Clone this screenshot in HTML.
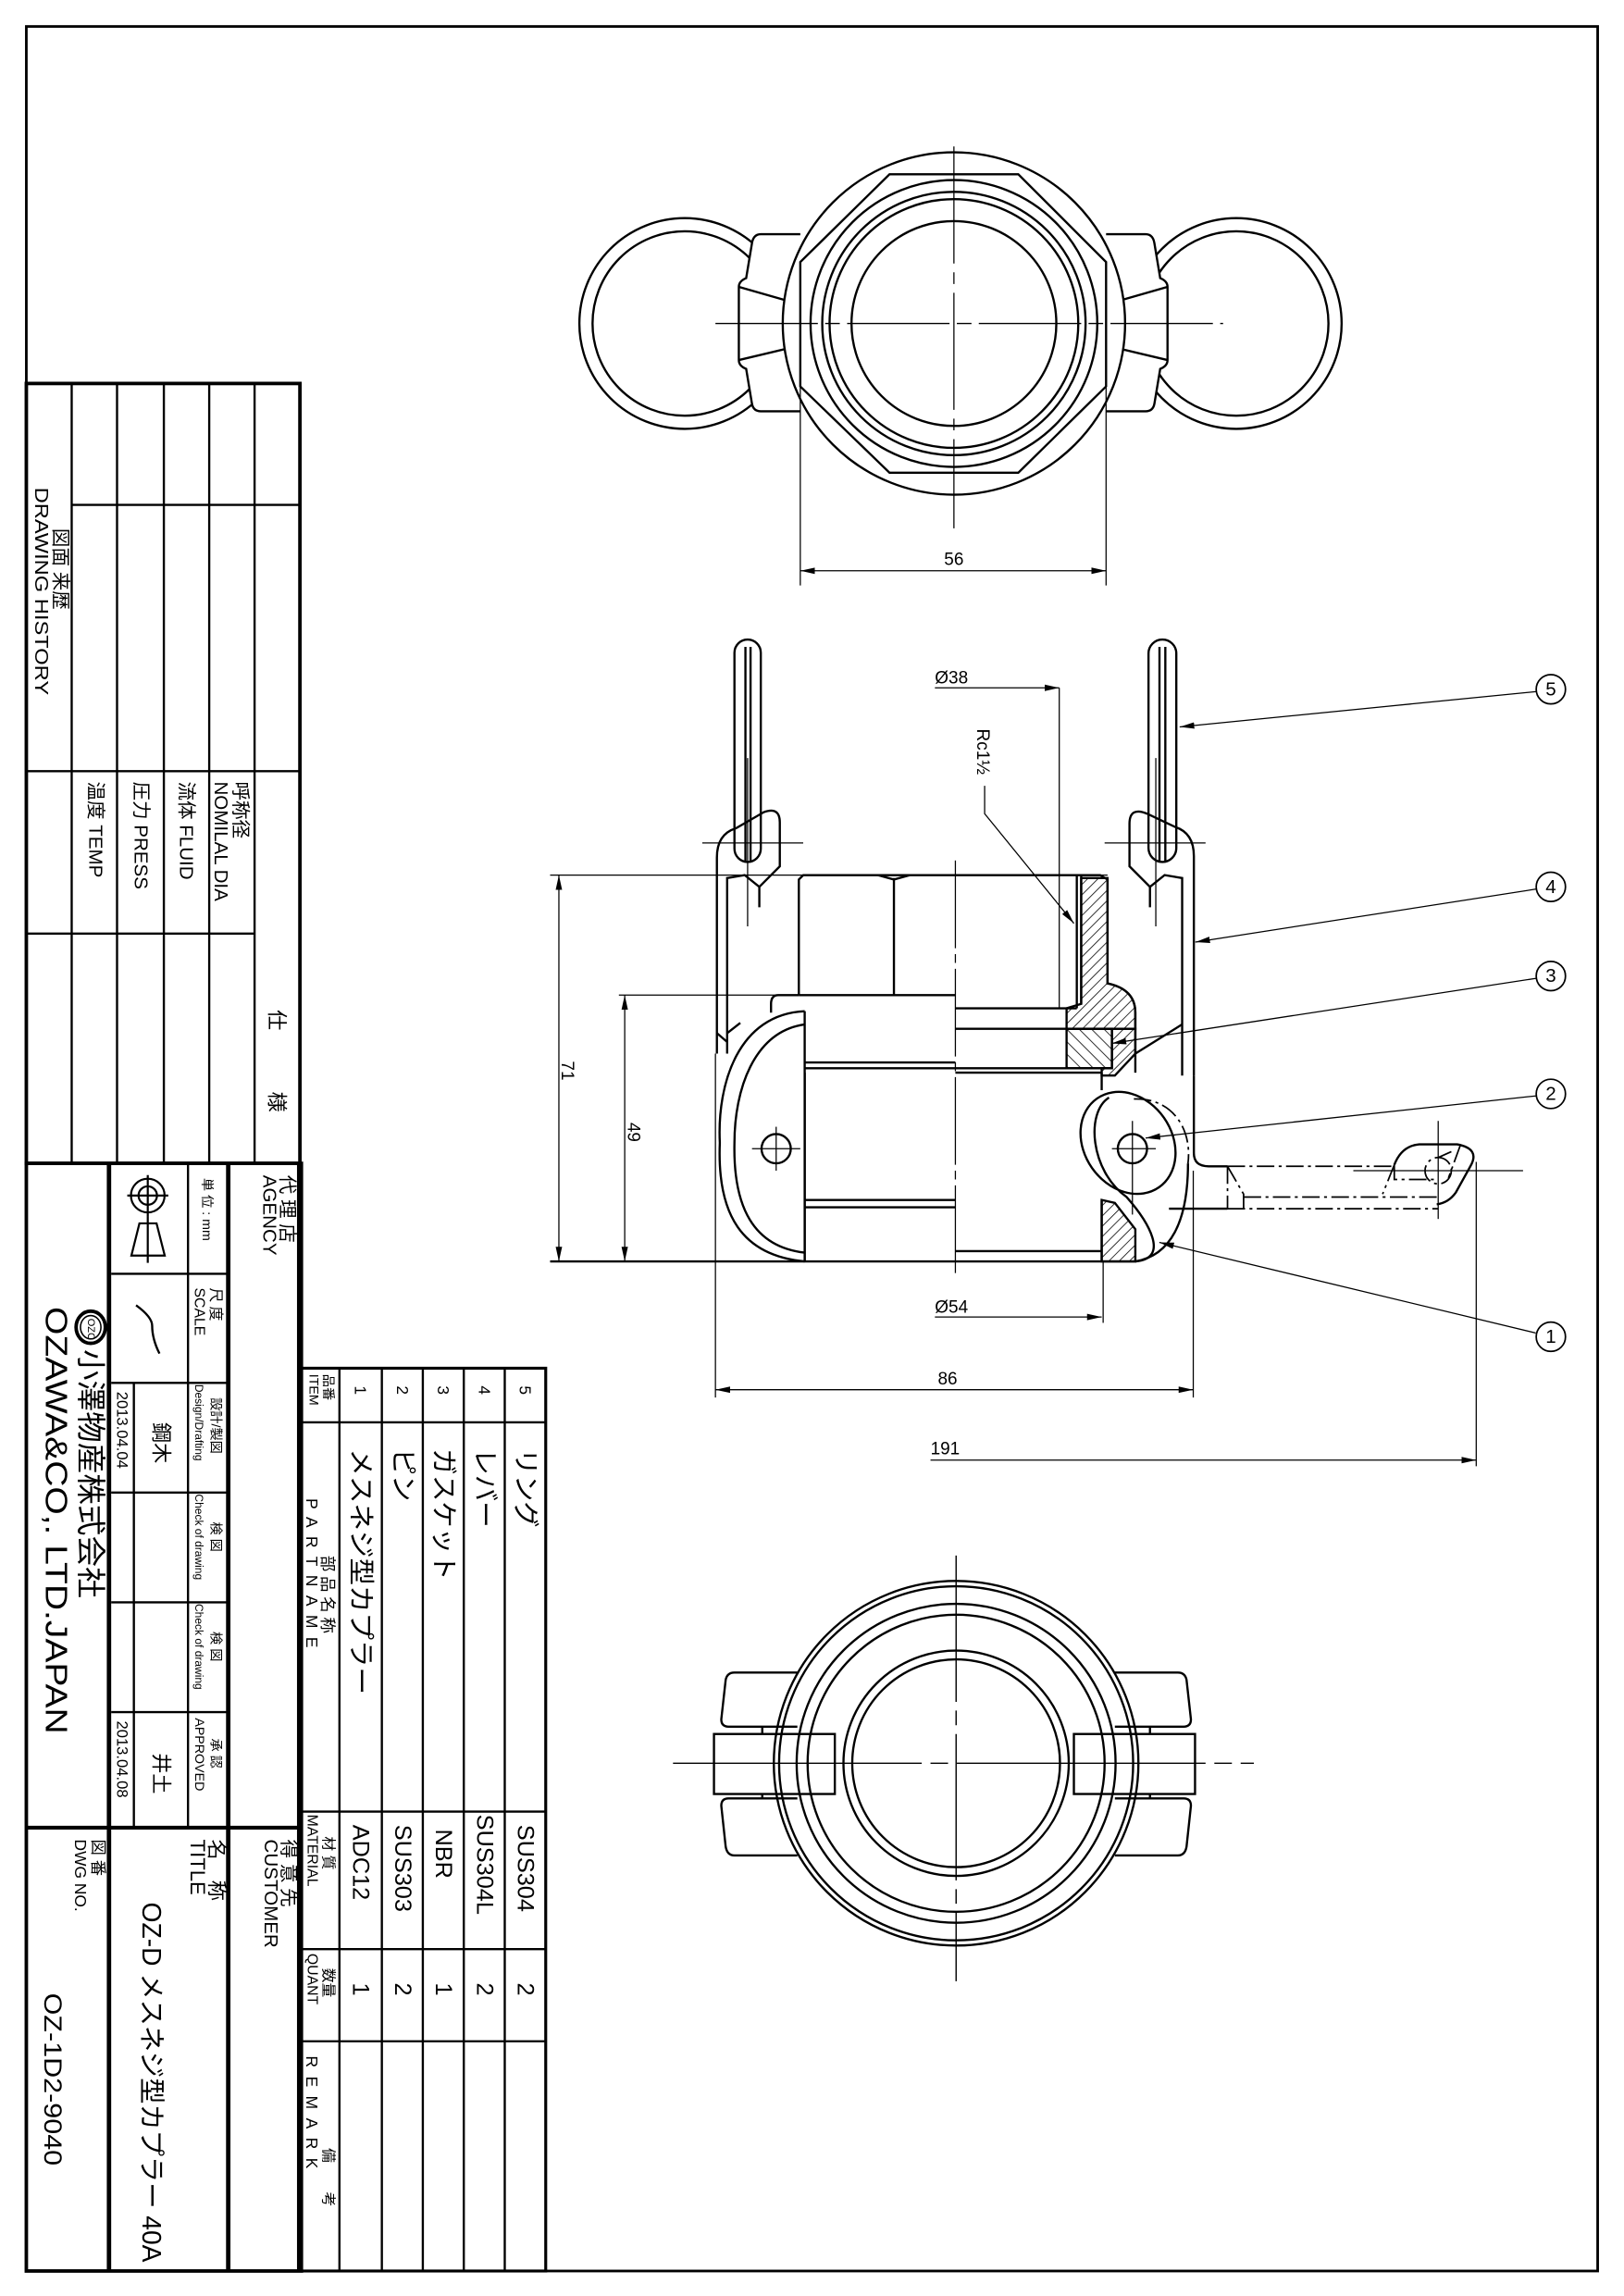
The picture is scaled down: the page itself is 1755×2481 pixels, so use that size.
<!DOCTYPE html>
<html><head><meta charset="utf-8"><style>
html,body{margin:0;padding:0;background:#fff}
svg{display:block}
text{font-family:"Liberation Sans","Noto Sans CJK JP",sans-serif;fill:#000}
</style></head><body>
<svg width="1755" height="2481" viewBox="0 0 1110 1569" xmlns="http://www.w3.org/2000/svg">
<defs>
<pattern id="h1" width="5" height="5" patternUnits="userSpaceOnUse" patternTransform="rotate(45)"><line x1="0" y1="0" x2="0" y2="5" stroke="#000" stroke-width="1"/></pattern>
<pattern id="h2" width="6" height="6" patternUnits="userSpaceOnUse" patternTransform="rotate(-45)"><line x1="0" y1="0" x2="0" y2="6" stroke="#000" stroke-width="1"/></pattern>
<marker id="ar" markerWidth="10" markerHeight="6" refX="10" refY="3" orient="auto" markerUnits="userSpaceOnUse"><path d="M0,0.8 L10,3 L0,5.2 Z" fill="#000"/></marker>
<marker id="ar2" markerWidth="10" markerHeight="6" refX="0" refY="3" orient="auto" markerUnits="userSpaceOnUse"><path d="M10,0.8 L0,3 L10,5.2 Z" fill="#000"/></marker>
</defs>
<rect width="1110" height="1569" fill="#fff"/>
<rect x="18" y="18" width="1074" height="1534" fill="none" stroke="#000" stroke-width="1.8"/>

<g stroke="#000" fill="none">
<rect x="18" y="262" width="187" height="533" stroke-width="2.4"/>
<g stroke-width="1.5">
<line x1="49" y1="262" x2="49" y2="795"/><line x1="80" y1="262" x2="80" y2="795"/>
<line x1="112" y1="262" x2="112" y2="795"/><line x1="143" y1="262" x2="143" y2="795"/>
<line x1="174" y1="262" x2="174" y2="795"/>
<line x1="49" y1="345" x2="205" y2="345"/>
<line x1="18" y1="527" x2="205" y2="527"/>
<line x1="18" y1="638" x2="174" y2="638"/>
</g>
<rect x="18" y="795" width="188" height="757" stroke-width="2.4"/>
<line x1="74.5" y1="795" x2="74.5" y2="1552" stroke-width="3"/>
<line x1="156" y1="795" x2="156" y2="1552" stroke-width="3"/>
<line x1="204.5" y1="795" x2="204.5" y2="1552" stroke-width="3"/>
<line x1="18" y1="1249" x2="206" y2="1249" stroke-width="2.6"/>
<g stroke-width="1.5">
<line x1="128.5" y1="795" x2="128.5" y2="1249"/>
<line x1="91.5" y1="945" x2="91.5" y2="1249"/>
<line x1="76" y1="870.5" x2="156" y2="870.5"/><line x1="76" y1="945" x2="156" y2="945"/>
<line x1="76" y1="1020" x2="156" y2="1020"/><line x1="76" y1="1095" x2="156" y2="1095"/>
<line x1="76" y1="1170" x2="156" y2="1170"/>
</g>
<rect x="206" y="935" width="167" height="617" stroke-width="2"/>
<g stroke-width="1.5">
<line x1="232" y1="935" x2="232" y2="1552"/><line x1="261" y1="935" x2="261" y2="1552"/>
<line x1="289" y1="935" x2="289" y2="1552"/><line x1="317" y1="935" x2="317" y2="1552"/>
<line x1="345" y1="935" x2="345" y2="1552"/>
<line x1="206" y1="972" x2="373" y2="972"/><line x1="206" y1="1238" x2="373" y2="1238"/>
<line x1="206" y1="1332" x2="373" y2="1332"/><line x1="206" y1="1395" x2="373" y2="1395"/>
</g>
<g stroke-width="1.4">
<circle cx="101" cy="817" r="11.5"/><circle cx="101" cy="817" r="6.3"/>
<line x1="87" y1="817" x2="115" y2="817"/><line x1="101" y1="803" x2="101" y2="831"/>
<path d="M95.3,836 L107,836 L112.6,858 L89.8,858 Z"/>
<line x1="101" y1="831" x2="101" y2="863"/>
<path d="M93,892 Q104,900 104,906 Q104,915 109,925" stroke-width="1.5"/>
</g>
<ellipse cx="62" cy="907" rx="10" ry="11" stroke-width="2.4"/>
<ellipse cx="62" cy="907" rx="7" ry="8" stroke-width="1"/>
</g>

<g font-size="13" dominant-baseline="central">
<text transform="translate(189,690) rotate(90)" font-size="14">仕　　　様</text>
<text transform="translate(164,534) rotate(90)">呼称径</text>
<text transform="translate(151,534) rotate(90)">NOMILAL  DIA</text>
<text transform="translate(127,534) rotate(90)">流体  FLUID</text>
<text transform="translate(96,534) rotate(90)">圧力  PRESS</text>
<text transform="translate(65,534) rotate(90)">温度  TEMP</text>
<text transform="translate(41,361) rotate(90)">図面  来歴</text>
<text transform="translate(28,333) rotate(90)" textLength="142" lengthAdjust="spacingAndGlyphs">DRAWING HISTORY</text>

<text transform="translate(196,803) rotate(90)">代 理 店</text>
<text transform="translate(184,803) rotate(90)">AGENCY</text>
<text transform="translate(141,805) rotate(90)" font-size="9">単   位 : mm</text>
<text transform="translate(147,880) rotate(90)" font-size="10">尺   度</text>
<text transform="translate(136,880) rotate(90)" font-size="10">SCALE</text>
<text transform="translate(147,955) rotate(90)" font-size="9">設計/製図</text>
<text transform="translate(136,946) rotate(90)" font-size="7.6">Design/Drafting</text>
<text transform="translate(147,1040) rotate(90)" font-size="9">検   図</text>
<text transform="translate(136,1021) rotate(90)" font-size="7.6">Check of drawing</text>
<text transform="translate(147,1115) rotate(90)" font-size="9">検   図</text>
<text transform="translate(136,1096) rotate(90)" font-size="7.6">Check of drawing</text>
<text transform="translate(147,1188) rotate(90)" font-size="9">承   認</text>
<text transform="translate(136,1174) rotate(90)" font-size="9">APPROVED</text>
<text transform="translate(83.5,951) rotate(90)" font-size="10.5">2013.04.04</text>
<text transform="translate(110,972) rotate(90)" font-size="14">鋼木</text>
<text transform="translate(83.5,1176) rotate(90)" font-size="10.5">2013.04.08</text>
<text transform="translate(110,1198) rotate(90)" font-size="14">井土</text>
<text transform="translate(62,901) rotate(90)" font-size="7">OZC</text>
<text transform="translate(62,922) rotate(90)" font-size="20" textLength="170" lengthAdjust="spacingAndGlyphs">小澤物産株式会社</text>
<text transform="translate(38,893) rotate(90)" font-size="21" textLength="292" lengthAdjust="spacingAndGlyphs">OZAWA&amp;CO,. LTD.JAPAN</text>

<text transform="translate(197,1257) rotate(90)">得 意 先</text>
<text transform="translate(185,1257) rotate(90)">CUSTOMER</text>
<text transform="translate(148,1257) rotate(90)" font-size="14">名　称</text>
<text transform="translate(135,1257) rotate(90)" font-size="14">TITLE</text>
<text transform="translate(103,1300) rotate(90)" font-size="18" textLength="246" lengthAdjust="spacingAndGlyphs">OZ-D メスネジ型カプラー 40A</text>
<text transform="translate(67,1257) rotate(90)" font-size="11">図 番</text>
<text transform="translate(55,1257) rotate(90)" font-size="11">DWG NO.</text>
<text transform="translate(36,1362) rotate(90)" font-size="17" textLength="118" lengthAdjust="spacingAndGlyphs">OZ-1D2-9040</text>

<text transform="translate(224,939) rotate(90)" font-size="9">品番</text>
<text transform="translate(214,939) rotate(90)" font-size="9">ITEM</text>
<text transform="translate(224,1063) rotate(90)" font-size="11">部 品 名 称</text>
<text transform="translate(213,1024) rotate(90)" font-size="11" letter-spacing="6">PARTNAME</text>
<text transform="translate(224,1255) rotate(90)" font-size="10">材 質</text>
<text transform="translate(213,1240) rotate(90)" font-size="10">MATERIAL</text>
<text transform="translate(224,1345) rotate(90)" font-size="10">数量</text>
<text transform="translate(213,1335) rotate(90)" font-size="10">QUANT</text>
<text transform="translate(224,1468) rotate(90)" font-size="10">備　　考</text>
<text transform="translate(213,1405) rotate(90)" font-size="11" letter-spacing="6">REMARK</text>

<text transform="translate(246.5,947) rotate(90)" font-size="11">1</text>
<text transform="translate(275,947) rotate(90)" font-size="11">2</text>
<text transform="translate(303,947) rotate(90)" font-size="11">3</text>
<text transform="translate(331,947) rotate(90)" font-size="11">4</text>
<text transform="translate(359,947) rotate(90)" font-size="11">5</text>
<text transform="translate(246.5,990) rotate(90)" font-size="18" textLength="168" lengthAdjust="spacingAndGlyphs">メスネジ型カプラー</text>
<text transform="translate(275,990) rotate(90)" font-size="18">ピン</text>
<text transform="translate(303,990) rotate(90)" font-size="18">ガスケット</text>
<text transform="translate(331,990) rotate(90)" font-size="18">レバー</text>
<text transform="translate(359,990) rotate(90)" font-size="18">リング</text>
<text transform="translate(246.5,1247) rotate(90)" font-size="16">ADC12</text>
<text transform="translate(275,1247) rotate(90)" font-size="16">SUS303</text>
<text transform="translate(303,1250) rotate(90)" font-size="16">NBR</text>
<text transform="translate(331,1240) rotate(90)" font-size="16">SUS304L</text>
<text transform="translate(359,1247) rotate(90)" font-size="16">SUS304</text>
<text transform="translate(246.5,1355) rotate(90)" font-size="16">1</text>
<text transform="translate(275,1355) rotate(90)" font-size="16">2</text>
<text transform="translate(303,1355) rotate(90)" font-size="16">1</text>
<text transform="translate(331,1355) rotate(90)" font-size="16">2</text>
<text transform="translate(359,1355) rotate(90)" font-size="16">2</text>
</g>

<!-- TOP VIEW -->
<g stroke="#000" fill="none" stroke-width="1.5">
<circle cx="468" cy="221" r="72"/><circle cx="468" cy="221" r="63"/>
<circle cx="845" cy="221" r="72"/><circle cx="845" cy="221" r="63"/>
<path d="M547,160 L520,160 Q515,160 514,166 L510,190 Q505,192 505,196 L505,246 Q505,250 510,252 L514,276 Q515,281 520,281 L547,281" fill="#fff"/>
<path d="M505,196 L547,208 M505,246 L547,236"/>
<path d="M756,160 L783,160 Q788,160 789,166 L793,190 Q798,192 798,196 L798,246 Q798,250 793,252 L789,276 Q788,281 783,281 L756,281" fill="#fff"/>
<path d="M798,196 L756,208 M798,246 L756,236"/>
<circle cx="652" cy="221" r="117" fill="#fff"/>
<path d="M608,119 L696,119 L756,179 L756,264 L696,323 L608,323 L547,264 L547,179 Z"/>
<circle cx="652" cy="221" r="98"/><circle cx="652" cy="221" r="90"/>
<circle cx="652" cy="221" r="85"/><circle cx="652" cy="221" r="70"/>
</g>
<g stroke="#000" stroke-width="0.8" fill="none">
<line x1="489" y1="221" x2="836" y2="221" stroke-dasharray="70,5,10,5"/>
<line x1="652" y1="100" x2="652" y2="361" stroke-dasharray="80,6,8,6"/>
<line x1="547" y1="264" x2="547" y2="400"/><line x1="756" y1="264" x2="756" y2="400"/>
<line x1="547" y1="390" x2="756" y2="390" marker-start="url(#ar2)" marker-end="url(#ar)"/>
</g>
<text x="652" y="386" font-size="12" text-anchor="middle">56</text>

<!-- MIDDLE VIEW -->
<g stroke="#000" fill="none" stroke-width="1.5">
<rect x="502" y="437" width="18" height="152" rx="9"/>
<line x1="509.5" y1="442" x2="509.5" y2="589"/><line x1="513" y1="442" x2="513" y2="589"/>
<rect x="785" y="437" width="19" height="152" rx="9.5"/>
<line x1="792.5" y1="442" x2="792.5" y2="589"/><line x1="796.5" y1="442" x2="796.5" y2="589"/>
<path d="M490,720 L490,586 Q490,570 503,566 L522,555 Q533,551 533,562 L533,592 L519,606"/>
<path d="M497,720 L497,600 L509,598 L519,606 L519,620"/>
<path d="M490,706 L497,712 M497,706 L506,699"/>
<path d="M816,735 L816,585 Q816,569 803,565 L784,556 Q772,551 772,563 L772,592 L786,606"/>
<path d="M808,735 L808,600 L796,598 L786,606 L786,620"/>
<path d="M808,700 L776,720"/>
<path d="M546,680 L546,601 L549,598 L752,598 L757,601 L757,672 Q776,676 776,692 L776,733"/>
<line x1="611" y1="600" x2="611" y2="680"/>
<path d="M600,598 L611,601 L622,598"/>
<line x1="736" y1="598" x2="736" y2="689"/><line x1="739" y1="598" x2="739" y2="686"/>
<path d="M546,680 L532,680 Q527,680 527,686 L527,692"/>
<line x1="546" y1="680" x2="653" y2="680"/>
<line x1="653" y1="689" x2="736" y2="689"/>
<line x1="653" y1="703" x2="760" y2="703"/>
<line x1="550" y1="726" x2="653" y2="726"/><line x1="550" y1="730" x2="653" y2="730"/>
<line x1="653" y1="730" x2="760" y2="730"/>
<line x1="653" y1="733" x2="753" y2="733"/>
<line x1="550" y1="820" x2="653" y2="820"/><line x1="550" y1="825" x2="653" y2="825"/>
<line x1="653" y1="855" x2="753" y2="855"/>
<line x1="753" y1="733" x2="753" y2="745"/><line x1="753" y1="820" x2="753" y2="862"/>
<line x1="550" y1="733" x2="550" y2="862"/>
<path d="M739,600 L757,600 L757,672 Q776,676 776,692 L776,703 L729,703 L729,689 L739,686 Z" fill="url(#h1)"/>
<rect x="729" y="703" width="31" height="27" fill="url(#h2)"/>
<path d="M760,703 L776,703 L776,720 L762,735 L753,735 L753,730 L760,730 Z" fill="url(#h1)"/>
<path d="M753,820 L762,822 L776,840 L776,862 L753,862 Z" fill="url(#h1)"/>
<path d="M550,691 C505,693 490,740 492,781 C490,830 507,858 550,862" fill="#fff"/>
<path d="M550,700 C515,705 502,745 502,781 C501,825 515,852 550,856"/>
<line x1="550" y1="691" x2="550" y2="862"/>
<circle cx="530.5" cy="785" r="10"/>
<ellipse cx="771" cy="781" rx="30" ry="37" transform="rotate(-35 771 781)"/>
<path d="M758,750 C742,760 745,800 770,818 C785,835 800,860 776,862" />
<path d="M812,795 C812,835 800,858 776,862"/>
<circle cx="774" cy="785" r="10"/>
<path d="M816,735 L816,788 Q816,797 826,797 L839,797"/>
<path d="M953,796 Q958,783 970,782 L996,782 Q1012,785 1005,797 L995,815 Q990,822 982,823"/>
<path d="M799,826 L839,826" />
</g>
<g stroke="#000" fill="none" stroke-width="1.1" stroke-dasharray="12,3,2,3">
<path d="M775,751 C800,750 815,770 812,795"/>
<line x1="839" y1="797" x2="953" y2="797"/>
<line x1="850" y1="818" x2="982" y2="818"/>
<line x1="839" y1="826" x2="983" y2="826"/>
<path d="M839,797 L839,826 M839,797 L850,816 L850,826"/>
<path d="M953,796 L953,806 L982,806 M953,796 L945,816"/>
<circle cx="983" cy="800" r="9"/>
<path d="M983,791 L992,787 M998,783 L990,805"/>
</g>
<g stroke="#000" fill="none" stroke-width="0.8">
<line x1="511" y1="518" x2="511" y2="633"/><line x1="480" y1="576" x2="549" y2="576"/>
<line x1="790" y1="518" x2="790" y2="633"/><line x1="755" y1="576" x2="824" y2="576"/>
<line x1="653" y1="588" x2="653" y2="870" stroke-dasharray="60,4,6,4"/>
<line x1="514" y1="785" x2="547" y2="785"/><line x1="530.5" y1="770" x2="530.5" y2="800"/>
<line x1="760" y1="785" x2="790" y2="785"/><line x1="774" y1="766" x2="774" y2="830"/>
<line x1="925" y1="800" x2="1041" y2="800"/><line x1="983" y1="766" x2="983" y2="833"/>
<line x1="376" y1="598" x2="757" y2="598"/>
<line x1="376" y1="862" x2="776" y2="862" stroke-width="1.5"/>
<line x1="382" y1="598" x2="382" y2="862" marker-start="url(#ar2)" marker-end="url(#ar)"/>
<line x1="423" y1="680" x2="546" y2="680"/>
<line x1="427" y1="680" x2="427" y2="862" marker-start="url(#ar2)" marker-end="url(#ar)"/>
<line x1="639" y1="470" x2="724" y2="470" marker-end="url(#ar)"/>
<line x1="724" y1="470" x2="724" y2="689"/>
<line x1="639" y1="900" x2="753" y2="900" marker-end="url(#ar)"/>
<line x1="754" y1="862" x2="754" y2="904"/>
<line x1="489" y1="720" x2="489" y2="955"/><line x1="815.6" y1="800" x2="815.6" y2="955"/>
<line x1="489" y1="949.7" x2="815.6" y2="949.7" marker-start="url(#ar2)" marker-end="url(#ar)"/>
<line x1="1009" y1="794" x2="1009" y2="1002"/>
<line x1="636" y1="997.8" x2="1009" y2="997.8" marker-end="url(#ar)"/>
<path d="M673,537 L673,556 L734,631" marker-end="url(#ar)"/>
<line x1="1049.6" y1="472.6" x2="806.3" y2="496.7" marker-end="url(#ar)"/>
<line x1="1049.6" y1="607.6" x2="817" y2="643.8" marker-end="url(#ar)"/>
<line x1="1049.6" y1="668.6" x2="759.8" y2="713" marker-end="url(#ar)"/>
<line x1="1049.6" y1="748.9" x2="783" y2="777.7" marker-end="url(#ar)"/>
<line x1="1049.6" y1="910.9" x2="792.4" y2="849" marker-end="url(#ar)"/>
</g>
<g stroke="#000" fill="none" stroke-width="1.1">
<circle cx="1060" cy="471" r="10"/><circle cx="1060" cy="606" r="10"/>
<circle cx="1060" cy="667" r="10"/><circle cx="1060" cy="747.5" r="10"/>
<circle cx="1060" cy="913.5" r="10"/>
</g>
<g font-size="13" text-anchor="middle" dominant-baseline="central">
<text x="1060" y="471">5</text><text x="1060" y="606">4</text><text x="1060" y="667">3</text>
<text x="1060" y="747.5">2</text><text x="1060" y="913.5">1</text>
</g>
<g font-size="12">
<text x="639" y="467">Ø38</text>
<text x="639" y="897">Ø54</text>
<text x="641" y="946">86</text>
<text x="636" y="994">191</text>
<text transform="translate(668,498) rotate(90)">Rc1½</text>
<text transform="translate(384,725) rotate(90)">71</text>
<text transform="translate(429,767) rotate(90)">49</text>
</g>

<!-- BOTTOM VIEW -->
<g stroke="#000" fill="none" stroke-width="1.5">
<path d="M545,1143 L502,1143 Q497,1143 496,1148 L493,1175 Q493,1180 498,1180 L545,1180"/>
<path d="M545,1229 L498,1229 Q493,1229 493,1234 L496,1262 Q497,1268 502,1268 L545,1268"/>
<path d="M762,1143 L805,1143 Q810,1143 811,1148 L814,1175 Q814,1180 809,1180 L762,1180"/>
<path d="M762,1229 L809,1229 Q814,1229 814,1234 L811,1262 Q810,1268 805,1268 L762,1268"/>
<line x1="521" y1="1180" x2="521" y2="1185"/><line x1="521" y1="1226" x2="521" y2="1229"/>
<line x1="786" y1="1180" x2="786" y2="1185"/><line x1="786" y1="1226" x2="786" y2="1229"/>
<rect x="488" y="1185" width="82.6" height="41" fill="#fff"/>
<rect x="734" y="1185" width="82.8" height="41" fill="#fff"/>
<circle cx="653.5" cy="1205" r="124.6"/><circle cx="653.5" cy="1205" r="121"/>
<circle cx="653.5" cy="1205" r="109"/><circle cx="653.5" cy="1205" r="101.5"/>
<circle cx="653.5" cy="1205" r="77"/><circle cx="653.5" cy="1205" r="71"/>
</g>
<g stroke="#000" fill="none" stroke-width="0.9">
<line x1="460" y1="1205" x2="857" y2="1205" stroke-dasharray="170,6,12,6"/>
<line x1="653.5" y1="1063" x2="653.5" y2="1354" stroke-dasharray="100,6,10,6"/>
</g>
</svg>
</body></html>
